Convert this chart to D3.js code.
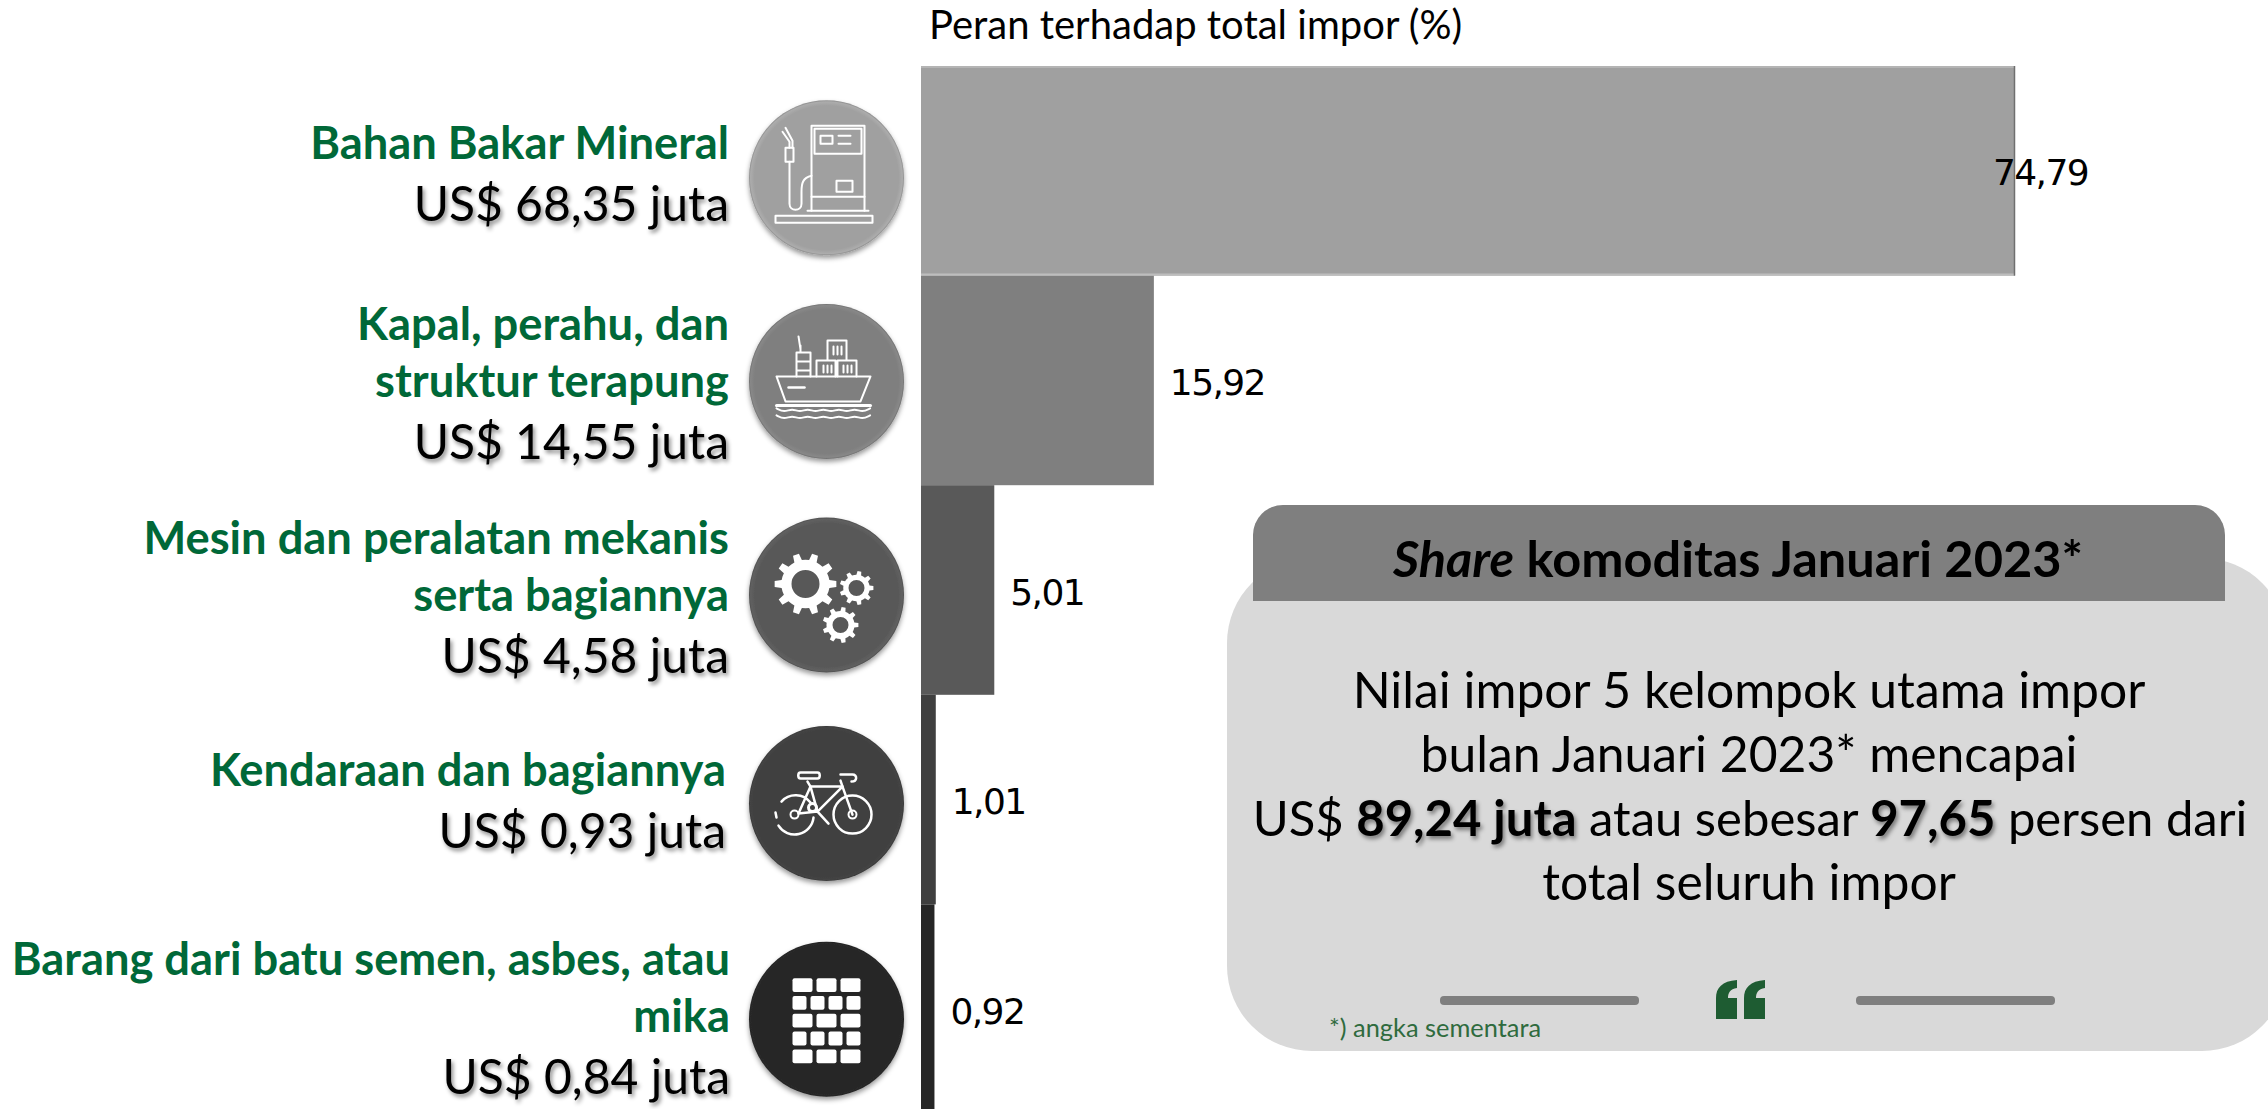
<!DOCTYPE html>
<html>
<head>
<meta charset="utf-8">
<script src="https://cdn.jsdelivr.net/npm/d3@7"></script>
<style>
  html, body { margin: 0; padding: 0; background: #fff; overflow: hidden; }
  svg { display: block; }
  text { font-family: Lato, sans-serif; }
</style>
</head>
<body>
<div id="chart"></div>
<script>
// data
const categories = ['Bahan Bakar Mineral', 'Kapal, perahu, dan struktur terapung', 'Mesin dan peralatan mekanis serta bagiannya', 'Kendaraan dan bagiannya', 'Barang dari batu semen, asbes, atau mika']
const labelLines = [
  ['Bahan Bakar Mineral'],
  ['Kapal, perahu, dan', 'struktur terapung'],
  ['Mesin dan peralatan mekanis', 'serta bagiannya'],
  ['Kendaraan dan bagiannya'],
  ['Barang dari batu semen, asbes, atau', 'mika']
]
const shares = [74.79, 15.92, 5.01, 1.01, 0.92]
const amounts = ['68,35', '14,55', '4,58', '0,93', '0,84']
const barColors = ['#a0a0a0', '#7f7f7f', '#595959', '#3f3f3f', '#262626']

const width = 2268
const height = 1109
const green = '#006838'

const svg = d3.select('#chart').append('svg')
  .attr('width', width)
  .attr('height', height)

const defs = svg.append('defs')

const textShadow = defs.append('filter').attr('id', 'textShadow')
  .attr('x', '-5%').attr('y', '-20%').attr('width', '115%').attr('height', '150%')
textShadow.append('feDropShadow')
  .attr('dx', 2).attr('dy', 3).attr('stdDeviation', 2)
  .attr('flood-color', '#000').attr('flood-opacity', 0.45)

const iconShadow = defs.append('filter').attr('id', 'iconShadow')
  .attr('x', '-15%').attr('y', '-15%').attr('width', '130%').attr('height', '135%')
iconShadow.append('feDropShadow')
  .attr('dx', 0).attr('dy', 3).attr('stdDeviation', 2.5)
  .attr('flood-color', '#000').attr('flood-opacity', 0.4)

// rim is a bit lighter than the button itself
barColors.forEach((c, i) => {
  const g = defs.append('radialGradient').attr('id', 'button' + i)
    .attr('cx', '50%').attr('cy', '50%').attr('r', '50%')
  g.append('stop').attr('offset', '93%').attr('stop-color', c)
  g.append('stop').attr('offset', '98%').attr('stop-color', d3.color(c).brighter(0.2))
  g.append('stop').attr('offset', '100%').attr('stop-color', d3.color(c).darker(0.4))
})

const x = d3.scaleLinear()
  .domain([0, 74.79])
  .range([921, 2015])

const y = d3.scaleBand()
  .domain(categories)
  .range([66, 1114])

// Bars
svg.selectAll('.bar')
  .data(categories)
  .enter().append('rect')
  .attr('class', 'bar')
  .attr('x', x(0))
  .attr('y', d => y(d))
  .attr('width', (d, i) => x(shares[i]) - x(0))
  .attr('height', y.bandwidth())
  .attr('fill', (d, i) => barColors[i])

// thin bevel on the biggest bar
svg.append('path')
  .attr('d', d3.line()([[x(0), y(categories[0]) + 1], [x(shares[0]), y(categories[0]) + 1]]))
  .attr('stroke', '#b4b4b4').attr('stroke-width', 2)
svg.append('path')
  .attr('d', d3.line()([[x(0), y(categories[1]) - 1], [x(shares[0]), y(categories[1]) - 1]]))
  .attr('stroke', '#bdbdbd').attr('stroke-width', 2)
svg.append('path')
  .attr('d', d3.line()([[x(shares[0]) - 0.5, y(categories[0])], [x(shares[0]) - 0.5, y(categories[1])]]))
  .attr('stroke', '#6f6f6f').attr('stroke-width', 1.5)

// Value labels
svg.selectAll('.value')
  .data(categories)
  .enter().append('text')
  .attr('class', 'value')
  .attr('x', (d, i) => i === 0 ? x(shares[i]) - 22 : x(shares[i]) + 16)
  .attr('y', d => y(d) + y.bandwidth() / 2 + 2)
  .attr('dy', '.35em')
  .style('font-family', '"DejaVu Sans"')
  .style('font-size', '36px')
  .style('letter-spacing', '-1.6px')
  .style('fill', '#000')
  .text((d, i) => shares[i].toFixed(2).replace('.', ','))

svg.append('text')
  .attr('x', 929)
  .attr('y', 39)
  .style('font-size', '40px')
  .text('Peran terhadap total impor (%)')

// Left labels, last baseline is the black amount line
const labelRight = [729, 729, 729, 726, 730]
const labelShift = [50, 79, 83, 48, 85]
const group = svg.selectAll('.label')
  .data(categories)
  .enter().append('g')
  .attr('class', 'label')
  .attr('transform', (d, i) => 'translate(' + labelRight[i] + ',' + (y(d) + y.bandwidth() / 2 + labelShift[i]) + ')')

group.append('text')
  .attr('text-anchor', 'end')
  .attr('filter', 'url(#textShadow)')
  .style('font-size', '48px')
  .style('fill', '#000')
  .text((d, i) => 'US$ ' + amounts[i] + ' juta')

group.each(function (d, i) {
  const lines = labelLines[i]
  lines.forEach((line, j) => {
    d3.select(this).append('text')
      .attr('text-anchor', 'end')
      .attr('y', -62 - (lines.length - 1 - j) * 57)
      .style('font-size', '45.3px')
      .style('font-weight', 700)
      .style('fill', green)
      .text(line)
  })
})

// Icons
const iconX = 826.5
const buttons = svg.selectAll('.button')
  .data(categories)
  .enter().append('g')
  .attr('class', 'button')
  .attr('transform', (d, i) => 'translate(' + iconX + ',' + (y(d) + y.bandwidth() / 2 + [7, 1, 5, 4, 10][i]) + ')')

buttons.append('circle')
  .attr('r', 77.5)
  .attr('fill', (d, i) => 'url(#button' + i + ')')
  .attr('filter', 'url(#iconShadow)')

function outline (g, d, w) {
  g.append('path').attr('d', d)
    .attr('fill', 'none').attr('stroke', '#fff')
    .attr('stroke-width', w || 2).attr('stroke-linejoin', 'round').attr('stroke-linecap', 'round')
}

function pump (g) {
  outline(g, 'M-15,33V-52H38V33')
  outline(g, 'M-12,-49H35V-24H-12Z')
  outline(g, 'M-6,-42H6V-34H-6Z M12,-42H24 M12,-34H24')
  outline(g, 'M10,3H26V14H10Z')
  outline(g, 'M-15,19H38 M-19,33H42')
  outline(g, 'M-51,38H46V45H-51Z')
  outline(g, 'M-15,-2C-24,0 -25,6 -25,14V26C-25,34 -37,34 -37,26V-16')
  outline(g, 'M-41,-16H-33V-30H-41Z')
  outline(g, 'M-37,-30V-36L-44,-46 M-34,-30V-37L-41,-50')
}

function ship (g) {
  outline(g, 'M-50,-5H44L34,20H-41Z')
  outline(g, 'M-50,24H44', 3)
  const wave = d3.line().curve(d3.curveBasis)
  d3.range(2).forEach(k => {
    const pts = d3.range(0, 13).map(n => [-50 + n * 7.8, 29 + k * 7 + (n % 2 ? 2 : -2)])
    outline(g, wave(pts))
  })
  outline(g, 'M-30,-5V-29H-16V-5 M-26,-29V-36 M-26,-32L-28,-45 M-30,-20H-16V-11H-30')
  outline(g, 'M-10,-5V-21H9V-5 M11,-5V-21H30V-5 M1,-21V-41H20V-21')
  outline(g, 'M-3,-16V-9 M1,-16V-9 M5,-16V-9 M17,-16V-9 M21,-16V-9 M25,-16V-9 M7,-35V-27 M11,-35V-27 M15,-35V-27')
  outline(g, 'M-38,6H-22', 2.5)
}

// gear path: ring of teeth round a hole
function gearPath (cx, cy, r, hole, teeth) {
  const p = d3.path()
  const step = 2 * Math.PI / teeth
  for (let k = 0; k < teeth; k++) {
    const a = k * step
    const pts = [[r * 0.78, a - step * 0.5], [r * 0.78, a - step * 0.26], [r, a - step * 0.16], [r, a + step * 0.16], [r * 0.78, a + step * 0.26]]
    pts.forEach((q, n) => {
      const px = cx + q[0] * Math.cos(q[1])
      const py = cy + q[0] * Math.sin(q[1])
      if (k === 0 && n === 0) p.moveTo(px, py)
      else p.lineTo(px, py)
    })
  }
  p.closePath()
  p.moveTo(cx + hole, cy)
  p.arc(cx, cy, hole, 0, 2 * Math.PI, true)
  return p.toString()
}

function gears (g) {
  g.append('path').attr('d', gearPath(-21, -11, 31, 14, 10)).attr('fill', '#fff').attr('fill-rule', 'evenodd')
  g.append('path').attr('d', gearPath(30, -7, 17, 8, 9)).attr('fill', '#fff').attr('fill-rule', 'evenodd')
  g.append('path').attr('d', gearPath(14, 30, 18, 8, 9)).attr('fill', '#fff').attr('fill-rule', 'evenodd')
}

function bike (g) {
  outline(g, 'M26,11m-19,0a19,19 0 1,0 38,0a19,19 0 1,0 -38,0', 2.5)
  outline(g, 'M26,11m-4,0a4,4 0 1,0 8,0a4,4 0 1,0 -8,0')
  outline(g, 'M-32,11m-4,0a4,4 0 1,0 8,0a4,4 0 1,0 -8,0')
  outline(g, 'M-45,-2A19,19 0 0,1 -16,-1 M-13,14A19,19 0 0,1 -48,22', 2.5)
  outline(g, 'M-51,9L-50,14', 2.5)
  outline(g, 'M-16,-17H16L-9,8L-28,10L-16,-17L-9,8L2,20', 2.5)
  outline(g, 'M16,-17L26,11 M14,-23L16,-17 M14,-29H26C31,-29 31,-22 25,-22', 2.5)
  outline(g, 'M-19,-22L-16,-17 M-26,-31H-9C-6,-31 -6,-25 -9,-25H-26C-29,-25 -29,-31 -26,-31Z', 2.5)
  outline(g, 'M-14,4m-4,0a4,4 0 1,0 8,0a4,4 0 1,0 -8,0', 3)
}

function bricks (g) {
  const rows = [3, 4, 3, 4, 3]
  const w = 68
  const h = 85
  const gap = 4
  const rh = (h - gap * 4) / 5
  rows.forEach((n, r) => {
    const bw = (w - gap * (n - 1)) / n
    d3.range(n).forEach(k => {
      g.append('rect')
        .attr('x', -34 + k * (bw + gap))
        .attr('y', -41 + r * (rh + gap))
        .attr('width', bw).attr('height', rh)
        .attr('rx', 2).attr('fill', '#fff')
    })
  })
}

const iconDraw = [pump, ship, gears, bike, bricks]
buttons.each(function (d, i) { iconDraw[i](d3.select(this)) })

// Share panel
svg.append('rect')
  .attr('x', 1227).attr('y', 558)
  .attr('width', 1060).attr('height', 493)
  .attr('rx', 85).attr('ry', 85)
  .attr('fill', '#d9d9d9')

svg.append('path')
  .attr('d', 'M1253,601V535A30,30 0 0 1 1283,505H2195A30,30 0 0 1 2225,535V601Z')
  .attr('fill', '#7f7f7f')

// runs of text on one line, each with own element so bold ones can carry the shadow
function textRuns (cx, baseline, size, runs) {
  const g = svg.append('g')
  const els = runs.map(r => g.append('text')
    .attr('y', baseline)
    .attr('xml:space', 'preserve')
    .style('white-space', 'pre')
    .style('font-size', size + 'px')
    .style('font-weight', r.bold ? 700 : 400)
    .style('font-style', r.italic ? 'italic' : 'normal')
    .attr('filter', r.shadow ? 'url(#textShadow)' : null)
    .text(r.text))
  const widths = els.map(e => e.node().getComputedTextLength())
  let pos = cx - d3.sum(widths) / 2
  els.forEach((e, i) => {
    e.attr('x', pos)
    pos += widths[i]
  })
}

textRuns(1738, 577, 50.5, [
  { text: 'Share', bold: true, italic: true },
  { text: ' komoditas Januari 2023*', bold: true }
])
textRuns(1749, 708, 49.8, [{ text: 'Nilai impor 5 kelompok utama impor' }])
textRuns(1749, 772, 49.8, [{ text: 'bulan Januari 2023* mencapai' }])
textRuns(1750, 836, 49, [
  { text: 'US$ ' },
  { text: '89,24 juta', bold: true, shadow: true },
  { text: ' atau sebesar ' },
  { text: '97,65', bold: true, shadow: true },
  { text: ' persen dari' }
])
textRuns(1749, 900, 49.8, [{ text: 'total seluruh impor' }])

svg.selectAll('.pill')
  .data([1440, 1856])
  .enter().append('rect')
  .attr('class', 'pill')
  .attr('x', d => d).attr('y', 996)
  .attr('width', 199).attr('height', 9)
  .attr('rx', 4).attr('fill', '#7f7f7f')

svg.append('path')
  .attr('d', 'M1737,980V988C1730,989 1728,993 1728,998H1737V1019H1716V998C1716,988 1722,981 1737,980Z M1765,980V988C1758,989 1756,993 1756,998H1765V1019H1744V998C1744,988 1750,981 1765,980Z')
  .attr('fill', '#1e5c32')

svg.append('text')
  .attr('x', 1329)
  .attr('y', 1037)
  .style('font-size', '25.4px')
  .style('fill', '#2f6b3e')
  .text('*) angka sementara')
</script>
</body>
</html>
